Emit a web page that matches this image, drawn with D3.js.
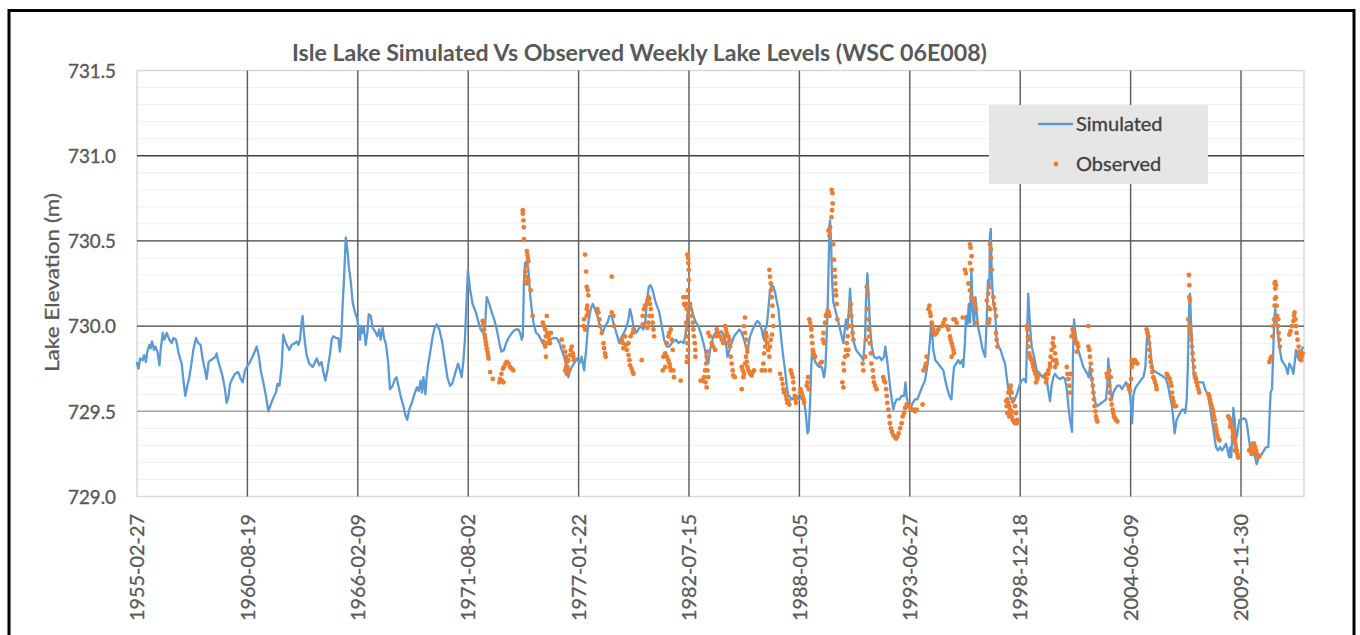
<!DOCTYPE html>
<html>
<head>
<meta charset="utf-8">
<script src="https://cdn.jsdelivr.net/npm/d3@7"></script>
<style>
  body { margin: 0; background: #fff; }
  svg { display: block; }
</style>
</head>
<body>
<div id="chart"></div>
<script>
// chart values
var chartTitle = "Isle Lake Simulated Vs Observed Weekly Lake Levels (WSC 06E008)";
var yLabel = "Lake Elevation (m)";
var yTicks = [729.0, 729.5, 730.0, 730.5, 731.0, 731.5];
var yMinorTicks = [729.1, 729.2, 729.3, 729.4, 729.6, 729.7, 729.8, 729.9, 730.1, 730.2, 730.3, 730.4,
                   730.6, 730.7, 730.8, 730.9, 731.1, 731.2, 731.3, 731.4];
var xTickLabels = ["1955-02-27", "1960-08-19", "1966-02-09", "1971-08-02", "1977-01-22", "1982-07-15",
                   "1988-01-05", "1993-06-27", "1998-12-18", "2004-06-09", "2009-11-30"];
var xEnd = "2013-01-14";
var seriesNames = ["Simulated", "Observed"];

// [decimal year, level m]
var simulated = [
[1955.14,729.79],[1955.23,729.75],[1955.31,729.81],[1955.44,729.80],[1955.51,729.83],[1955.60,729.79],
[1955.67,729.85],[1955.77,729.89],[1955.84,729.87],[1955.90,729.91],[1956.00,729.86],[1956.07,729.88],
[1956.17,729.85],[1956.27,729.77],[1956.33,729.86],[1956.43,729.96],[1956.51,729.92],[1956.63,729.96],
[1956.76,729.92],[1956.88,729.90],[1956.96,729.93],[1957.09,729.92],[1957.22,729.84],[1957.37,729.78],
[1957.46,729.68],[1957.55,729.59],[1957.65,729.65],[1957.75,729.70],[1957.83,729.76],[1957.95,729.86],
[1958.08,729.93],[1958.20,729.90],[1958.31,729.89],[1958.41,729.81],[1958.53,729.74],[1958.61,729.69],
[1958.71,729.79],[1958.81,729.80],[1958.94,729.81],[1959.04,729.82],[1959.11,729.84],[1959.17,729.80],
[1959.27,729.76],[1959.41,729.70],[1959.52,729.63],[1959.60,729.55],[1959.69,729.58],[1959.77,729.66],
[1959.88,729.69],[1960.02,729.72],[1960.18,729.73],[1960.30,729.69],[1960.40,729.67],[1960.51,729.74],
[1960.76,729.79],[1960.96,729.84],[1961.09,729.88],[1961.19,729.83],[1961.29,729.74],[1961.42,729.67],
[1961.55,729.59],[1961.67,729.50],[1961.79,729.54],[1961.92,729.58],[1962.05,729.61],[1962.12,729.66],
[1962.22,729.65],[1962.33,729.76],[1962.41,729.95],[1962.51,729.91],[1962.58,729.89],[1962.71,729.86],
[1962.83,729.89],[1962.99,729.90],[1963.07,729.91],[1963.16,729.89],[1963.24,729.92],[1963.31,730.01],
[1963.37,730.06],[1963.42,729.98],[1963.49,729.90],[1963.57,729.83],[1963.70,729.78],[1963.87,729.76],
[1964.07,729.81],[1964.20,729.77],[1964.31,729.79],[1964.40,729.73],[1964.50,729.68],[1964.60,729.74],
[1964.73,729.84],[1964.81,729.92],[1964.89,729.94],[1965.03,729.93],[1965.14,729.93],[1965.22,729.85],
[1965.29,729.94],[1965.36,730.14],[1965.42,730.27],[1965.51,730.52],[1965.59,730.45],[1965.66,730.35],
[1965.75,730.27],[1965.85,730.14],[1965.97,730.08],[1966.08,730.04],[1966.15,729.98],[1966.22,729.92],
[1966.27,730.00],[1966.35,729.96],[1966.41,729.99],[1966.50,729.89],[1966.58,729.96],[1966.65,730.07],
[1966.75,730.06],[1966.84,729.99],[1966.96,729.97],[1967.08,729.94],[1967.17,729.98],[1967.24,729.92],
[1967.34,729.99],[1967.41,729.93],[1967.51,729.89],[1967.62,729.78],[1967.70,729.63],[1967.84,729.65],
[1967.95,729.69],[1968.03,729.70],[1968.12,729.65],[1968.23,729.59],[1968.37,729.53],[1968.46,729.48],
[1968.56,729.45],[1968.66,729.51],[1968.78,729.55],[1968.89,729.59],[1969.03,729.64],[1969.13,729.62],
[1969.22,729.68],[1969.29,729.61],[1969.36,729.70],[1969.46,729.60],[1969.52,729.70],[1969.60,729.78],
[1969.69,729.84],[1969.82,729.94],[1969.92,729.99],[1970.02,730.01],[1970.15,729.98],[1970.27,729.92],
[1970.35,729.86],[1970.45,729.78],[1970.55,729.70],[1970.68,729.65],[1970.78,729.66],[1970.88,729.70],
[1970.98,729.74],[1971.08,729.78],[1971.18,729.74],[1971.26,729.70],[1971.34,729.79],[1971.42,729.92],
[1971.51,730.17],[1971.57,730.33],[1971.67,730.22],[1971.80,730.13],[1971.97,730.08],[1972.10,730.02],
[1972.20,729.98],[1972.34,729.96],[1972.42,730.00],[1972.50,730.17],[1972.63,730.13],[1972.75,730.08],
[1972.87,730.04],[1973.00,729.98],[1973.13,729.90],[1973.23,729.85],[1973.36,729.86],[1973.46,729.90],
[1973.58,729.93],[1973.69,729.95],[1973.82,729.97],[1973.96,729.98],[1974.07,729.98],[1974.16,729.96],
[1974.24,729.92],[1974.29,729.94],[1974.35,730.27],[1974.40,730.37],[1974.49,730.38],[1974.57,730.33],
[1974.65,730.19],[1974.73,730.10],[1974.82,730.02],[1974.95,729.96],[1975.06,729.95],[1975.15,729.93],
[1975.28,729.90],[1975.40,729.88],[1975.51,729.90],[1975.64,729.92],[1975.81,729.93],[1975.97,729.93],
[1976.11,729.90],[1976.22,729.86],[1976.34,729.82],[1976.47,729.76],[1976.55,729.70],[1976.63,729.74],
[1976.72,729.76],[1976.83,729.78],[1976.97,729.81],[1977.10,729.78],[1977.21,729.82],[1977.33,729.74],
[1977.43,729.86],[1977.54,730.02],[1977.66,730.10],[1977.76,730.13],[1977.87,730.10],[1977.99,730.06],
[1978.12,730.00],[1978.25,729.96],[1978.37,730.00],[1978.49,730.02],[1978.59,730.06],[1978.70,730.06],
[1978.78,730.02],[1978.88,729.98],[1978.98,729.94],[1979.08,729.90],[1979.20,729.94],[1979.31,729.96],
[1979.45,730.00],[1979.53,730.04],[1979.61,730.10],[1979.69,730.06],[1979.78,730.00],[1979.91,729.96],
[1980.02,729.98],[1980.14,730.00],[1980.27,729.98],[1980.37,730.03],[1980.44,730.14],[1980.54,730.23],
[1980.63,730.24],[1980.73,730.21],[1980.85,730.15],[1980.97,730.11],[1981.06,730.08],[1981.18,730.00],
[1981.30,729.92],[1981.43,729.88],[1981.56,729.88],[1981.68,729.90],[1981.76,729.91],[1981.89,729.92],
[1982.01,729.90],[1982.12,729.91],[1982.26,729.90],[1982.35,729.94],[1982.42,730.02],[1982.50,730.10],
[1982.59,730.13],[1982.67,730.10],[1982.75,730.06],[1982.88,730.02],[1983.00,730.00],[1983.11,729.96],
[1983.21,729.92],[1983.33,729.86],[1983.41,729.80],[1983.49,729.78],[1983.58,729.86],[1983.66,729.90],
[1983.74,729.94],[1983.83,729.96],[1983.91,729.97],[1984.04,729.96],[1984.16,729.97],[1984.27,729.94],
[1984.37,729.90],[1984.44,729.82],[1984.54,729.86],[1984.65,729.90],[1984.77,729.94],[1984.90,729.96],
[1985.03,729.98],[1985.15,729.96],[1985.26,729.92],[1985.36,729.88],[1985.43,729.84],[1985.50,729.90],
[1985.56,729.94],[1985.69,729.98],[1985.81,730.01],[1985.92,730.03],[1986.02,730.02],[1986.14,729.98],
[1986.22,729.93],[1986.30,729.98],[1986.39,730.00],[1986.47,730.10],[1986.55,730.21],[1986.64,730.24],
[1986.72,730.23],[1986.80,730.20],[1986.88,730.15],[1986.97,730.10],[1987.05,730.00],[1987.13,729.90],
[1987.21,729.82],[1987.30,729.74],[1987.38,729.65],[1987.46,729.59],[1987.51,729.59],[1987.63,729.57],
[1987.74,729.58],[1987.88,729.59],[1988.01,729.57],[1988.12,729.59],[1988.24,729.57],[1988.34,729.47],
[1988.41,729.37],[1988.47,729.39],[1988.54,729.55],[1988.59,729.74],[1988.64,729.86],[1988.70,729.82],
[1988.80,729.79],[1988.90,729.77],[1989.00,729.76],[1989.12,729.76],[1989.23,729.70],[1989.30,729.76],
[1989.36,729.94],[1989.41,730.10],[1989.46,730.37],[1989.50,730.58],[1989.53,730.62],[1989.58,730.49],
[1989.63,730.27],[1989.69,730.14],[1989.78,730.10],[1989.86,730.06],[1989.99,730.00],[1990.11,729.94],
[1990.19,729.90],[1990.26,729.98],[1990.32,730.04],[1990.39,729.98],[1990.47,730.10],[1990.52,730.22],
[1990.59,730.08],[1990.65,729.94],[1990.72,729.90],[1990.82,729.86],[1990.95,729.84],[1991.08,729.82],
[1991.18,729.80],[1991.27,729.94],[1991.31,730.14],[1991.38,730.31],[1991.45,730.17],[1991.51,730.00],
[1991.60,729.88],[1991.71,729.82],[1991.84,729.81],[1991.98,729.82],[1992.09,729.80],[1992.21,729.82],
[1992.27,729.88],[1992.34,729.82],[1992.42,729.74],[1992.50,729.65],[1992.59,729.57],[1992.67,729.51],
[1992.75,729.55],[1992.84,729.57],[1992.97,729.57],[1993.08,729.59],[1993.20,729.59],[1993.27,729.67],
[1993.33,729.59],[1993.41,729.53],[1993.50,729.51],[1993.63,729.55],[1993.74,729.57],[1993.86,729.57],
[1993.99,729.61],[1994.12,729.65],[1994.24,729.68],[1994.32,729.74],[1994.41,729.82],[1994.49,729.92],
[1994.54,730.02],[1994.59,729.98],[1994.65,729.86],[1994.75,729.80],[1994.89,729.78],[1995.02,729.76],
[1995.15,729.74],[1995.25,729.68],[1995.35,729.63],[1995.45,729.59],[1995.55,729.57],[1995.61,729.67],
[1995.68,729.76],[1995.78,729.78],[1995.89,729.80],[1995.98,729.78],[1996.08,729.80],[1996.14,729.76],
[1996.22,729.90],[1996.27,730.06],[1996.34,730.00],[1996.41,730.13],[1996.47,730.02],[1996.54,730.33],
[1996.60,730.10],[1996.67,730.00],[1996.74,730.17],[1996.80,730.08],[1996.89,729.98],[1996.97,729.94],
[1997.10,729.86],[1997.22,729.82],[1997.30,730.04],[1997.36,730.27],[1997.43,730.23],[1997.46,730.53],
[1997.50,730.57],[1997.55,730.29],[1997.63,730.13],[1997.71,730.10],[1997.79,729.92],[1997.89,729.88],
[1997.99,729.86],[1998.09,729.82],[1998.21,729.78],[1998.29,729.70],[1998.37,729.63],[1998.46,729.59],
[1998.59,729.55],[1998.70,729.57],[1998.82,729.61],[1998.92,729.65],[1999.03,729.68],[1999.15,729.69],
[1999.25,729.67],[1999.32,730.02],[1999.36,730.19],[1999.45,730.00],[1999.53,729.88],[1999.65,729.82],
[1999.78,729.74],[1999.94,729.72],[2000.08,729.70],[2000.19,729.72],[2000.27,729.69],[2000.37,729.61],
[2000.44,729.56],[2000.52,729.65],[2000.60,729.70],[2000.69,729.72],[2000.80,729.70],[2000.94,729.69],
[2001.07,729.70],[2001.18,729.69],[2001.27,729.63],[2001.35,729.53],[2001.43,729.45],[2001.53,729.38],
[2001.58,729.84],[2001.63,730.04],[2001.70,729.96],[2001.79,729.88],[2001.89,729.84],[2001.99,729.80],
[2002.09,729.76],[2002.19,729.74],[2002.29,729.72],[2002.36,729.70],[2002.42,729.76],[2002.51,729.69],
[2002.59,729.61],[2002.69,729.55],[2002.79,729.53],[2002.89,729.54],[2003.00,729.55],[2003.12,729.56],
[2003.22,729.57],[2003.28,729.65],[2003.33,729.81],[2003.38,729.74],[2003.45,729.61],[2003.51,729.57],
[2003.58,729.61],[2003.66,729.63],[2003.78,729.65],[2003.91,729.65],[2004.01,729.63],[2004.11,729.65],
[2004.21,729.67],[2004.32,729.65],[2004.41,729.59],[2004.46,729.53],[2004.51,729.43],[2004.57,729.59],
[2004.65,729.63],[2004.74,729.65],[2004.87,729.67],[2004.99,729.69],[2005.07,729.70],[2005.17,729.76],
[2005.23,729.90],[2005.28,729.98],[2005.33,729.94],[2005.40,729.88],[2005.48,729.78],[2005.56,729.74],
[2005.70,729.73],[2005.83,729.72],[2005.98,729.71],[2006.09,729.70],[2006.19,729.69],[2006.29,729.65],
[2006.39,729.59],[2006.49,729.53],[2006.56,729.45],[2006.62,729.37],[2006.72,729.45],[2006.80,729.47],
[2006.89,729.49],[2006.99,729.51],[2007.08,729.51],[2007.15,729.49],[2007.22,729.57],[2007.27,729.74],
[2007.32,730.00],[2007.35,730.15],[2007.38,730.19],[2007.43,730.04],[2007.50,729.84],[2007.58,729.70],
[2007.68,729.67],[2007.81,729.67],[2007.94,729.67],[2008.04,729.67],[2008.13,729.63],[2008.21,729.61],
[2008.29,729.59],[2008.37,729.53],[2008.47,729.45],[2008.57,729.37],[2008.67,729.29],[2008.77,729.27],
[2008.87,729.29],[2008.97,729.27],[2009.07,729.29],[2009.17,729.31],[2009.25,729.27],[2009.32,729.23],
[2009.37,729.29],[2009.43,729.23],[2009.50,729.41],[2009.53,729.52],[2009.60,729.45],[2009.66,729.33],
[2009.73,729.37],[2009.83,729.45],[2009.94,729.45],[2010.06,729.46],[2010.16,729.45],[2010.22,729.41],
[2010.29,729.35],[2010.36,729.29],[2010.44,729.27],[2010.52,729.27],[2010.61,729.23],[2010.69,729.19],
[2010.77,729.22],[2010.85,729.23],[2010.95,729.25],[2011.05,729.27],[2011.15,729.29],[2011.27,729.29],
[2011.32,729.45],[2011.38,729.61],[2011.45,729.63],[2011.51,729.84],[2011.56,730.04],[2011.61,730.10],
[2011.68,730.02],[2011.75,729.96],[2011.81,729.88],[2011.93,729.80],[2012.04,729.78],[2012.14,729.76],
[2012.23,729.72],[2012.31,729.78],[2012.41,729.76],[2012.51,729.72],[2012.59,729.80],[2012.64,729.86],
[2012.72,729.82],[2012.80,729.80],[2012.92,729.86],[2013.00,729.88]
];

// [decimal year, level m]
var observed = [
[1972.30,730.03],[1972.34,730.01],[1972.37,729.98],[1972.40,729.95],[1972.42,729.93],[1972.45,729.91],
[1972.47,729.89],[1972.50,729.87],[1972.54,729.85],[1972.57,729.83],[1972.59,729.81],[1972.67,729.73],
[1972.80,729.69],
[1973.13,729.67],[1973.16,729.69],[1973.23,729.72],[1973.30,729.75],[1973.36,729.76],[1973.43,729.78],
[1973.49,729.79],[1973.58,729.78],[1973.66,729.76],[1973.74,729.75],[1973.82,729.74],[1973.33,729.67],
[1973.26,729.68],
[1974.29,730.68],[1974.29,730.66],[1974.32,730.62],[1974.34,730.58],[1974.35,730.51],[1974.49,730.44],
[1974.52,730.42],[1974.54,730.40],[1974.57,730.38],[1974.49,730.35],[1974.42,730.32],[1974.45,730.29],
[1974.40,730.26],[1974.49,730.25],[1974.57,730.27],[1974.68,730.21],[1974.78,730.06],
[1975.28,730.02],[1975.35,730.00],[1975.40,729.98],[1975.48,730.06],[1975.51,729.96],[1975.44,729.94],
[1975.56,729.94],[1975.61,729.92],[1975.51,729.90],[1975.40,729.88],[1975.44,729.82],[1975.64,729.90],
[1975.68,729.96],[1975.31,729.91],
[1976.22,729.92],[1976.30,729.88],[1976.39,729.85],[1976.44,729.82],[1976.47,729.79],[1976.50,729.76],
[1976.39,729.74],[1976.47,729.72],[1976.55,729.80],[1976.63,729.83],[1976.67,729.86],[1976.72,729.88],
[1976.77,729.84],[1976.80,729.82],[1976.83,729.80],[1976.60,729.74],[1976.44,729.76],
[1977.38,730.42],[1977.43,730.32],[1977.46,730.23],[1977.51,730.21],[1977.54,730.18],[1977.49,730.12],
[1977.46,730.10],[1977.54,730.08],[1977.46,730.06],[1977.33,730.04],[1977.30,730.00],[1977.38,729.98],
[1977.99,730.10],[1978.04,730.08],[1978.09,730.04],[1978.12,730.00],[1978.21,729.96],[1978.29,729.90],
[1978.32,729.87],[1978.37,729.84],[1978.40,729.82],[1978.70,730.29],[1978.70,730.08],[1978.78,730.06],
[1978.82,730.00],
[1979.20,729.92],[1979.25,729.90],[1979.28,729.87],[1979.36,729.94],[1979.41,729.89],[1979.45,729.86],
[1979.53,729.83],[1979.58,729.80],[1979.61,729.77],[1979.69,729.75],[1979.74,729.73],[1979.78,729.72],
[1979.53,729.90],[1979.64,729.94],[1979.74,729.96],[1979.78,729.98],
[1980.24,730.06],[1980.30,730.10],[1980.35,730.12],[1980.44,730.13],[1980.47,730.15],[1980.52,730.17],
[1980.57,730.16],[1980.60,730.13],[1980.64,730.10],[1980.69,730.06],[1980.73,730.02],[1980.77,729.98],
[1980.80,729.94],[1980.57,730.06],[1980.52,730.02],[1980.47,729.99],[1980.24,730.01],[1980.19,729.80],
[1981.26,729.82],[1981.35,729.84],[1981.43,729.82],[1981.51,729.80],[1981.56,729.78],[1981.59,729.76],
[1981.63,729.74],[1981.35,729.76],[1981.23,729.74],[1981.43,729.90],[1981.51,729.94],[1981.56,729.96],
[1981.63,729.98],[1981.68,729.92],[1981.73,729.86],[1981.76,729.74],[1981.79,729.70],[1982.12,729.68],
[1982.45,730.42],[1982.49,730.40],[1982.50,730.37],[1982.52,730.33],[1982.52,730.27],[1982.49,730.21],
[1982.42,730.17],[1982.39,730.13],[1982.35,730.12],[1982.42,730.10],[1982.49,730.06],[1982.39,730.02],
[1982.45,729.98],[1982.42,729.94],[1982.45,729.90],[1982.49,729.86],[1982.45,729.82],[1982.42,729.79],
[1982.59,730.13],[1982.62,730.10],[1982.67,730.06],[1982.72,730.02],[1982.75,729.98],[1982.78,729.94],
[1982.82,729.90],[1982.85,729.86],[1982.85,729.82],[1982.26,730.17],[1982.29,730.13],
[1983.11,729.68],[1983.21,729.68],[1983.28,729.70],[1983.33,729.74],[1983.38,729.78],[1983.41,729.82],
[1983.45,729.85],[1983.35,729.67],[1983.41,729.64],[1983.49,729.70],[1983.45,729.74],
[1983.49,729.96],[1983.58,729.94],[1983.66,729.90],[1983.74,729.88],[1983.83,729.86],[1983.88,729.94],
[1983.91,729.98],[1983.99,729.96],[1984.07,729.94],[1984.16,729.92],[1984.24,729.90],[1984.32,730.00],
[1984.37,729.98],[1984.40,729.96],[1984.49,729.94],[1984.54,729.92],[1984.57,729.88],[1984.60,729.82],
[1984.65,729.78],[1984.70,729.74],[1984.73,729.71],[1984.80,729.70],[1984.32,729.94],[1984.49,729.90],
[1985.15,729.76],[1985.20,729.74],[1985.26,729.72],[1985.31,729.78],[1985.36,729.82],[1985.40,729.79],
[1985.43,729.76],[1985.48,729.74],[1985.56,729.72],[1985.64,729.71],[1985.69,729.73],[1985.76,729.74],
[1985.31,730.05],[1985.26,730.00],[1985.31,729.96],[1985.36,729.92],[1985.40,729.88],[1985.43,729.85],
[1985.15,729.63],[1985.23,729.70],
[1986.14,729.74],[1986.22,729.78],[1986.26,729.84],[1986.31,729.88],[1986.32,729.92],[1986.35,729.96],
[1986.39,729.94],[1986.42,729.90],[1986.47,729.86],[1986.52,730.33],[1986.55,730.29],[1986.59,730.25],
[1986.60,730.21],[1986.64,730.17],[1986.67,730.12],[1986.69,730.06],[1986.72,730.00],[1986.65,729.95],
[1986.59,729.92],[1986.55,729.88],[1986.52,729.82],[1986.55,729.74],[1986.31,729.74],
[1987.05,729.72],[1987.13,729.69],[1987.18,729.66],[1987.22,729.63],[1987.25,729.61],[1987.30,729.62],
[1987.35,729.59],[1987.38,729.57],[1987.41,729.55],[1987.46,729.56],[1987.51,729.54],[1987.58,729.74],
[1987.63,729.72],[1987.68,729.70],[1987.71,729.67],[1987.74,729.63],[1987.78,729.59],[1987.81,729.57],
[1987.84,729.55],[1988.04,729.61],[1988.07,729.63],[1988.12,729.61],[1988.17,729.59],[1988.21,729.57],
[1988.24,729.55],[1988.37,729.65],[1988.41,729.67],[1988.44,729.70],[1988.47,729.63],
[1988.50,730.04],[1988.54,730.02],[1988.57,730.00],[1988.60,729.98],[1988.62,729.94],[1988.65,729.90],
[1988.67,729.86],[1988.70,729.85],[1988.74,729.83],[1988.79,729.82],[1989.17,729.92],[1989.20,729.96],
[1989.23,729.90],[1989.12,729.79],[1989.03,729.78],[1989.28,730.02],[1989.33,730.06],[1989.36,730.07],
[1989.41,730.09],[1989.46,730.08],[1989.50,730.06],
[1989.61,730.80],[1989.65,730.78],[1989.66,730.72],[1989.63,730.68],[1989.60,730.64],[1989.53,730.58],
[1989.50,730.53],[1989.69,730.48],[1989.73,730.39],[1989.76,730.33],[1989.78,730.29],[1989.79,730.25],
[1989.81,730.21],[1989.83,730.18],[1989.86,730.13],[1989.89,730.04],[1989.45,730.56],
[1990.19,729.78],[1990.22,729.74],[1990.27,729.82],[1990.32,729.86],[1990.36,729.90],[1990.41,729.94],
[1990.44,730.00],[1990.49,730.06],[1990.52,730.10],[1990.55,730.13],[1990.59,730.06],[1990.62,730.00],
[1990.65,729.96],[1990.69,729.92],[1990.44,729.86],[1990.39,729.83],[1990.19,729.64],[1990.14,729.67],
[1991.15,729.78],[1991.18,729.74],[1991.27,729.82],[1991.31,729.92],[1991.35,730.23],[1991.38,730.19],
[1991.41,730.10],[1991.43,730.04],[1991.45,729.98],[1991.48,729.94],[1991.51,729.90],[1991.55,729.84],
[1991.58,729.78],[1991.65,729.74],[1991.68,729.70],[1991.71,729.67],[1991.76,729.65],[1991.84,729.63],
[1992.17,729.70],[1992.21,729.68],[1992.26,729.67],[1992.31,729.63],[1992.34,729.59],[1992.37,729.55],
[1992.42,729.51],[1992.47,729.47],[1992.50,729.43],[1992.55,729.40],[1992.60,729.38],[1992.67,729.36],
[1992.74,729.35],[1992.80,729.34],[1992.87,729.35],[1992.93,729.37],[1993.00,729.40],[1993.08,729.43],
[1993.13,729.47],[1993.20,729.49],[1993.25,729.52],[1993.33,729.54],[1993.41,729.53],[1993.50,729.52],
[1993.58,729.51],[1993.66,729.51],[1993.74,729.50],[1993.83,729.51],[1994.12,729.54],
[1994.16,729.74],[1994.24,729.76],[1994.29,729.78],[1994.32,729.82],[1994.41,730.10],[1994.46,730.12],
[1994.49,730.08],[1994.52,730.06],[1994.57,730.02],[1994.62,730.00],[1994.65,729.98],[1994.69,729.96],
[1994.74,729.95],[1994.82,729.96],[1994.90,729.98],
[1995.07,730.00],[1995.15,730.02],[1995.23,730.04],[1995.32,730.00],[1995.40,729.98],[1995.48,729.94],
[1995.51,729.92],[1995.56,729.90],[1995.61,729.88],[1995.65,729.86],[1995.68,729.84],[1995.56,729.82],
[1995.65,730.04],[1995.73,730.04],[1995.81,730.02],[1996.11,730.05],
[1996.22,730.33],[1996.27,730.31],[1996.39,730.25],[1996.47,730.48],[1996.50,730.46],[1996.55,730.41],
[1996.47,730.37],[1996.55,730.33],[1996.47,730.21],[1996.55,730.17],[1996.64,730.15],[1996.72,730.13],
[1996.77,730.10],[1996.80,730.02],
[1997.30,730.15],[1997.38,730.19],[1997.46,730.48],[1997.50,730.45],[1997.51,730.40],[1997.55,730.33],
[1997.46,730.23],[1997.38,730.11],[1997.46,730.10],[1997.63,730.17],[1997.66,730.13],[1997.71,730.10],
[1997.76,730.06],[1997.43,730.04],[1997.40,730.02],[1997.76,729.96],[1997.79,729.92],[1997.83,729.88],
[1998.26,729.56],[1998.32,729.57],[1998.37,729.55],[1998.42,729.53],[1998.46,729.51],[1998.49,729.49],
[1998.54,729.47],[1998.59,729.45],[1998.65,729.44],[1998.70,729.43],[1998.79,729.43],[1998.37,729.61],
[1998.46,729.63],[1998.49,729.65],[1998.54,729.61],[1998.62,729.57],[1998.70,729.53],[1998.75,729.49],
[1998.82,729.45],[1998.29,729.53],[1998.32,729.49],[1998.42,729.47],[1998.54,729.50],
[1999.28,730.00],[1999.32,729.98],[1999.35,729.94],[1999.37,729.92],[1999.38,729.88],[1999.41,729.84],
[1999.45,729.82],[1999.48,729.81],[1999.53,729.80],[1999.58,729.78],[1999.61,729.76],[1999.66,729.74],
[1999.71,729.72],[1999.78,729.70],[1999.81,729.69],[1999.75,729.67],[1999.86,729.71],
[2000.19,729.70],[2000.27,729.72],[2000.36,729.74],[2000.44,729.78],[2000.47,729.82],[2000.52,729.86],
[2000.57,729.90],[2000.60,729.93],[2000.64,729.88],[2000.69,729.84],[2000.74,729.80],[2000.77,729.78],
[2000.69,729.76],[2000.60,729.80],[2000.44,729.76],[2000.36,729.72],[2000.27,729.69],[2000.24,729.67],
[2001.27,729.76],[2001.30,729.72],[2001.35,729.69],[2001.40,729.65],[2001.43,729.61],[2001.46,729.72],
[2001.51,729.94],[2001.56,729.98],[2001.60,729.96],[2001.63,729.94],[2001.68,729.92],[2001.73,729.90],
[2001.76,729.85],[2001.79,729.90],[2001.84,729.88],[2002.34,730.00],
[2002.34,729.88],[2002.39,729.86],[2002.42,729.82],[2002.46,729.78],[2002.49,729.74],[2002.52,729.69],
[2002.56,729.65],[2002.59,729.61],[2002.62,729.57],[2002.65,729.53],[2002.69,729.50],[2002.72,729.47],
[2002.75,729.45],[2002.79,729.44],
[2003.25,729.72],[2003.28,729.70],[2003.33,729.69],[2003.38,729.65],[2003.41,729.61],[2003.45,729.57],
[2003.50,729.54],[2003.55,729.51],[2003.58,729.49],[2003.61,729.47],[2003.66,729.46],[2003.71,729.45],
[2003.78,729.44],[2003.33,729.72],[2003.38,729.74],[2003.45,729.70],
[2004.32,729.65],[2004.37,729.63],[2004.41,729.62],[2004.46,729.69],[2004.49,729.76],[2004.54,729.78],
[2004.57,729.79],[2004.62,729.80],[2004.65,729.80],[2004.70,729.79],[2004.77,729.78],[2004.49,729.80],
[2005.23,729.98],[2005.27,729.96],[2005.32,729.94],[2005.35,729.90],[2005.37,729.86],[2005.40,729.82],
[2005.43,729.79],[2005.48,729.76],[2005.51,729.73],[2005.56,729.70],[2005.60,729.69],[2005.65,729.67],
[2005.70,729.65],[2005.73,729.63],
[2006.23,729.72],[2006.27,729.71],[2006.32,729.70],[2006.37,729.69],[2006.42,729.67],[2006.46,729.65],
[2006.49,729.61],[2006.52,729.58],[2006.56,729.56],[2006.59,729.54],[2006.64,729.53],[2006.69,729.53],
[2007.33,730.30],[2007.35,730.24],[2007.35,730.17],[2007.38,730.15],[2007.30,730.04],[2007.35,730.00],
[2007.38,729.98],[2007.42,729.95],[2007.45,729.92],[2007.48,729.88],[2007.51,729.84],[2007.55,729.80],
[2007.58,729.76],[2007.61,729.72],[2007.65,729.70],[2007.68,729.69],[2007.71,729.67],[2007.75,729.65],
[2007.80,729.63],[2007.84,729.61],
[2008.29,729.60],[2008.34,729.59],[2008.37,729.57],[2008.41,729.55],[2008.46,729.53],[2008.51,729.51],
[2008.54,729.49],[2008.57,729.47],[2008.61,729.45],[2008.64,729.42],[2008.67,729.40],[2008.70,729.38],
[2008.74,729.36],[2008.79,729.34],[2008.84,729.33],
[2009.28,729.47],[2009.33,729.46],[2009.37,729.45],[2009.40,729.43],[2009.45,729.41],[2009.50,729.39],
[2009.53,729.37],[2009.56,729.35],[2009.60,729.33],[2009.63,729.31],[2009.66,729.29],[2009.70,729.27],
[2009.73,729.25],[2009.76,729.23],[2009.80,729.23],[2009.37,729.41],[2009.50,729.35],[2009.61,729.27],
[2010.32,729.27],[2010.39,729.28],[2010.44,729.30],[2010.49,729.31],[2010.56,729.31],[2010.61,729.29],
[2010.66,729.27],[2010.69,729.25],[2010.72,729.24],[2010.77,729.23],[2010.82,729.24],[2010.52,729.26],
[2010.44,729.25],
[2011.32,729.79],[2011.38,729.81],[2011.43,729.82],[2011.48,729.94],[2011.51,730.00],[2011.55,730.04],
[2011.58,730.12],[2011.60,730.16],[2011.61,730.22],[2011.58,730.25],[2011.61,730.26],[2011.65,730.24],
[2011.65,730.17],[2011.68,730.12],[2011.71,730.06],[2011.75,730.00],[2011.78,729.96],[2011.81,729.92],
[2011.84,729.88],[2011.76,730.04],
[2012.31,729.95],[2012.37,729.97],[2012.44,730.00],[2012.51,730.03],[2012.54,730.06],[2012.57,730.08],
[2012.61,730.04],[2012.64,730.00],[2012.67,729.96],[2012.72,729.92],[2012.77,729.88],[2012.80,729.85],
[2012.84,729.83],[2012.87,729.81],[2012.92,729.82],[2012.97,729.84],[2012.90,729.80]
];

var parseDay = d3.utcParse("%Y-%m-%d");

// decimal year -> Date
function yearToDate(y){
    var y0 = Math.floor(y);
    var a = Date.UTC(y0, 0, 1), b = Date.UTC(y0 + 1, 0, 1);
    return new Date(a + (y - y0) * (b - a));
}

var W = 1360, H = 635;
var plot = {left: 137, right: 1304, top: 70.5, bottom: 496.5};
var grey = "#595959";
var font = "Lato, 'Open Sans', sans-serif";

var svg = d3.select("#chart")
    .append("svg")
    .attr("width", W)
    .attr("height", H);

// scales
var x = d3.scaleUtc()
    .domain([parseDay(xTickLabels[0]), parseDay(xEnd)])
    .range([plot.left, plot.right]);
var y = d3.scaleLinear()
    .domain([729.0, 731.5])
    .range([plot.bottom, plot.top]);

// minor gridlines
svg.append("g")
    .selectAll("line")
    .data(yMinorTicks)
    .enter()
    .append("line")
      .attr("x1", plot.left).attr("x2", plot.right)
      .attr("y1", function(d){ return y(d); })
      .attr("y2", function(d){ return y(d); })
      .style("stroke", "#f0f0f0")
      .style("stroke-width", 1);

// plot frame (light)
svg.append("rect")
    .attr("x", plot.left).attr("y", plot.top)
    .attr("width", plot.right - plot.left)
    .attr("height", plot.bottom - plot.top)
    .style("fill", "none")
    .style("stroke", "#d9d9d9")
    .style("stroke-width", 1.5);

// major horizontal gridlines (inner ones)
svg.append("g")
    .selectAll("line")
    .data(yTicks.filter(function(d){ return d > 729.0 && d < 731.5; }))
    .enter()
    .append("line")
      .attr("x1", plot.left).attr("x2", plot.right)
      .attr("y1", function(d){ return y(d); })
      .attr("y2", function(d){ return y(d); })
      .style("stroke", function(d){ return d === 729.5 ? "#a6a6a6" : "#404040"; })
      .style("stroke-width", 1.4);

// vertical gridlines at date ticks
var xTickDates = xTickLabels.map(parseDay);
svg.append("g")
    .selectAll("line")
    .data(xTickDates.slice(1))
    .enter()
    .append("line")
      .attr("x1", function(d){ return x(d); })
      .attr("x2", function(d){ return x(d); })
      .attr("y1", plot.top).attr("y2", plot.bottom)
      .style("stroke", "#595959")
      .style("stroke-width", 1.4);

// y tick labels
svg.append("g")
    .selectAll("text")
    .data(yTicks)
    .enter()
    .append("text")
      .attr("x", 116)
      .attr("y", function(d){ return y(d); })
      .attr("dy", "0.36em")
      .attr("text-anchor", "end")
      .attr("textLength", 48)
      .attr("lengthAdjust", "spacingAndGlyphs")
      .style("font-family", font)
      .style("font-size", "20px")
      .style("fill", grey)
      .style("stroke", grey)
      .style("stroke-width", 0.4)
      .text(function(d){ return d.toFixed(1); });

// x tick labels, rotated
svg.append("g")
    .selectAll("text")
    .data(xTickLabels)
    .enter()
    .append("text")
      .attr("transform", function(d){ return "translate(" + x(parseDay(d)) + ",514) rotate(-90)"; })
      .attr("dy", "0.36em")
      .attr("text-anchor", "end")
      .attr("textLength", 107)
      .attr("lengthAdjust", "spacingAndGlyphs")
      .style("font-family", font)
      .style("font-size", "20px")
      .style("fill", grey)
      .style("stroke", grey)
      .style("stroke-width", 0.3)
      .text(function(d){ return d; });

// title
svg.append("text")
    .attr("x", 639.5)
    .attr("y", 61)
    .attr("text-anchor", "middle")
    .attr("textLength", 695)
    .attr("lengthAdjust", "spacingAndGlyphs")
    .style("font-family", font)
    .style("font-weight", "bold")
    .style("font-size", "22px")
    .style("fill", grey)
    .text(chartTitle);

// y axis title
svg.append("text")
    .attr("transform", "translate(52.5,282.5) rotate(-90)")
    .attr("dy", "0.36em")
    .attr("text-anchor", "middle")
    .attr("textLength", 179)
    .attr("lengthAdjust", "spacingAndGlyphs")
    .style("font-family", font)
    .style("font-size", "19px")
    .style("fill", grey)
    .style("stroke", grey)
    .style("stroke-width", 0.3)
    .text(yLabel);

// simulated line
var line = d3.line()
    .x(function(d){ return x(yearToDate(d[0])); })
    .y(function(d){ return y(d[1]); });
svg.append("path")
    .datum(simulated)
    .attr("d", line)
    .style("fill", "none")
    .style("stroke", "#5b9bd5")
    .style("stroke-width", 2.3)
    .style("stroke-linejoin", "round");

// observed dots
svg.append("g")
    .selectAll("circle")
    .data(observed)
    .enter()
    .append("circle")
      .attr("cx", function(d){ return x(yearToDate(d[0])); })
      .attr("cy", function(d){ return y(d[1]); })
      .attr("r", 2.4)
      .style("fill", "#ed7d31");

// legend
var lg = svg.append("g");
lg.append("rect")
    .attr("x", 989).attr("y", 105)
    .attr("width", 219).attr("height", 79)
    .style("fill", "#e6e6e6");
lg.append("line")
    .attr("x1", 1038).attr("x2", 1073)
    .attr("y1", 124).attr("y2", 124)
    .style("stroke", "#5b9bd5")
    .style("stroke-width", 2.3);
lg.append("circle")
    .attr("cx", 1056).attr("cy", 164)
    .attr("r", 2.4)
    .style("fill", "#ed7d31");
lg.selectAll("text")
    .data(seriesNames)
    .enter()
    .append("text")
      .attr("x", 1076)
      .attr("y", function(d, i){ return i === 0 ? 124 : 164; })
      .attr("dy", "0.36em")
      .style("font-family", font)
      .style("font-size", "20px")
      .style("fill", "#404040")
      .style("stroke", "#404040")
      .style("stroke-width", 0.3)
      .text(function(d){ return d; });

// outer black frame
svg.append("rect")
    .attr("x", 9).attr("y", 10.5)
    .attr("width", 1345).attr("height", 640)
    .style("fill", "none")
    .style("stroke", "#000")
    .style("stroke-width", 3);
</script>
</body>
</html>
